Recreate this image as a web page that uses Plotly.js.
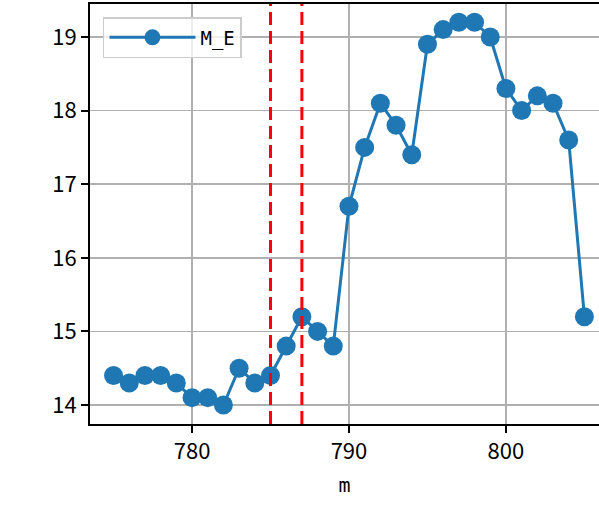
<!DOCTYPE html>
<html>
<head>
<meta charset="utf-8">
<script src="https://cdn.plot.ly/plotly-3.0.1.min.js"></script>
<style>html,body{margin:0;padding:0;background:#fff}#chart{width:599px;height:509px}</style>
</head>
<body>
<div id="chart"></div>
<script>
const xValues = [775,776,777,778,779,780,781,782,783,784,785,786,787,788,789,790,791,792,793,794,795,796,797,798,799,800,801,802,803,804,805];
const meValues = [14.4,14.3,14.4,14.4,14.3,14.1,14.1,14.0,14.5,14.3,14.4,14.8,15.2,15.0,14.8,16.7,17.5,18.1,17.8,17.4,18.9,19.1,19.2,19.2,19.0,18.3,18.0,18.2,18.1,17.6,15.2];
const vLines = [785, 787];
const seriesName = "M_E";
const xTitle = "m";

const font = {family: '"Noto Sans CJK JP", "DejaVu Sans", sans-serif', size: 22, color: '#000'};
const legendFont = {family: '"DejaVu Sans Mono", "Liberation Mono", monospace', size: 19, color: '#000'};

const trace = {
  x: xValues, y: meValues, name: seriesName, type: 'scatter', mode: 'lines+markers',
  line: {color: '#1f77b4', width: 3},
  marker: {color: '#1f77b4', size: 19},
  showlegend: true
};

const shapes = vLines.map(v => ({
  type: 'line', xref: 'x', yref: 'paper', x0: v, x1: v, y0: 0, y1: 1,
  line: {color: '#ff0000', width: 3, dash: '13px,6px'}
}));

const layout = {
  width: 599, height: 509,
  margin: {l: 90, r: 0, t: 4, b: 85},
  paper_bgcolor: '#fff', plot_bgcolor: '#fff',
  font: font,
  showlegend: true,
  legend: {
    x: 0.0255, y: 0.969, xanchor: 'left', yanchor: 'top',
    bgcolor: 'rgba(255,255,255,0.8)', bordercolor: '#cccccc', borderwidth: 1.5,
    font: legendFont, itemwidth: 86
  },
  xaxis: {
    range: [773.5, 805.93], tickvals: [780, 790, 800], ticktext: ['780','790','800'],
    showgrid: true, gridcolor: '#b0b0b0', gridwidth: 1.7,
    showline: true, linecolor: '#000', linewidth: 2, mirror: true,
    ticks: 'outside', ticklen: 7, tickwidth: 2, tickcolor: '#000',
    zeroline: false, tickfont: font,
    title: {text: xTitle, font: {family: legendFont.family, size: 20, color: '#000'}, standoff: 14}
  },
  yaxis: {
    range: [13.742, 19.448], tickvals: [14,15,16,17,18,19],
    showgrid: true, gridcolor: '#b0b0b0', gridwidth: 1.7,
    showline: true, linecolor: '#000', linewidth: 2,
    ticks: 'outside', ticklen: 7, tickwidth: 2, tickcolor: '#000',
    zeroline: false, tickfont: font
  },
  shapes: shapes
};

Plotly.newPlot('chart', [trace], layout, {displayModeBar: false, staticPlot: true});
</script>
</body>
</html>
